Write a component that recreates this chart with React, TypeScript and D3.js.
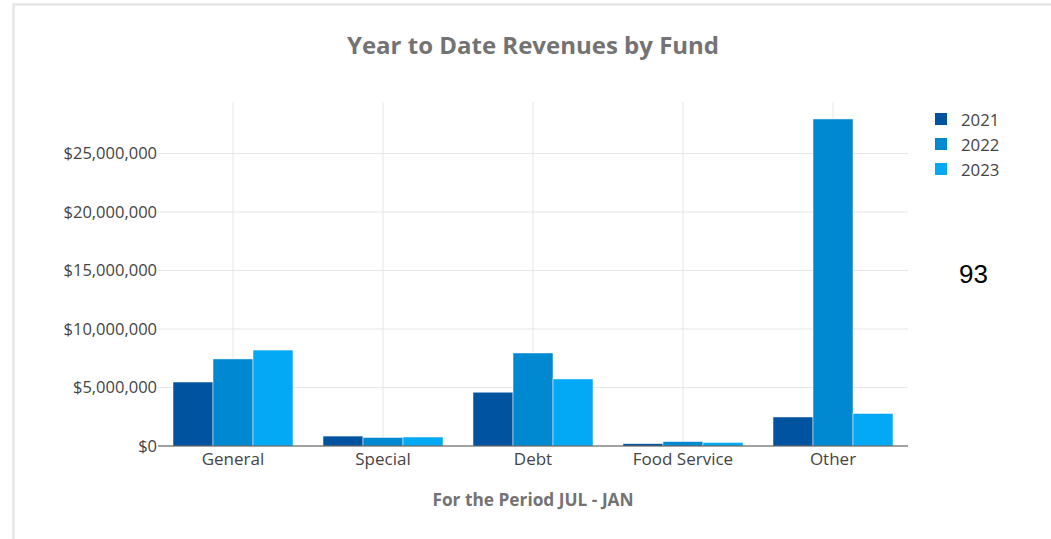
import * as React from "react";
import { scaleBand, scaleLinear, format } from "d3";

const funds = ["General", "Special", "Debt", "Food Service", "Other"];
const years = ["2021", "2022", "2023"];
const colors = ["#00549f", "#0088d1", "#03a9f4"];
const values2021 = [5470000, 850000, 4600000, 200000, 2480000];
const values2022 = [7440000, 730000, 7950000, 380000, 27950000];
const values2023 = [8200000, 770000, 5730000, 300000, 2780000];
const yTicks = [0, 5000000, 10000000, 15000000, 20000000, 25000000];

const series = [values2021, values2022, values2023];

const App: React.FC = () => {
    const width = 1051, height = 539;
    const margin = {top: 102, right: 143, bottom: 93, left: 158};
    const plotW = width - margin.left - margin.right;
    const plotH = height - margin.top - margin.bottom;

    const x = scaleBand().domain(funds).range([0, plotW]).paddingInner(0.2).paddingOuter(0.1);
    const x1 = scaleBand().domain(years).range([0, x.bandwidth()]);
    const y = scaleLinear().domain([0, 29400000]).range([plotH, 0]);
    const fmt = (v: number) => "$" + format(",")(v);
    const font = "'Open Sans', sans-serif";

    return (
        <svg width={width} height={height} style={{position: "absolute", left: 0, top: 0}}>
            <rect x={13.5} y={4.5} width={1040} height={540} fill="#fff" stroke="#e6e6e6" strokeWidth={2.5}/>
            <text x={533} y={54} textAnchor="middle" fontFamily={font} fontSize={24} fontWeight="bold" fill="#737373">
                Year to Date Revenues by Fund
            </text>
            <g transform={`translate(${margin.left},${margin.top})`}>
                {funds.map(f => (
                    <line key={f} x1={(x(f) as number) + x.bandwidth() / 2} x2={(x(f) as number) + x.bandwidth() / 2}
                          y1={0} y2={plotH} stroke="#e6e6e6"/>
                ))}
                {yTicks.map(t => (
                    <g key={t}>
                        {t > 0 && <line x1={0} x2={plotW} y1={y(t)} y2={y(t)} stroke="#e6e6e6"/>}
                        <text x={-1} y={y(t)} dy="0.35em" textAnchor="end" fontFamily={font} fontSize={16.5} fill="#444">
                            {fmt(t)}
                        </text>
                    </g>
                ))}
                {funds.map((f, i) => (
                    <g key={f} transform={`translate(${x(f)},0)`}>
                        {series.map((s, j) => (
                            <rect key={j} x={x1(years[j])} y={y(s[i])} width={x1.bandwidth()}
                                  height={plotH - y(s[i])} fill={colors[j]} stroke="#fff" strokeWidth={0.5}/>
                        ))}
                        <text x={x.bandwidth() / 2} y={plotH + 19} textAnchor="middle" fontFamily={font}
                              fontSize={17} fill="#444">{f}</text>
                    </g>
                ))}
                <line x1={0} x2={plotW} y1={plotH} y2={plotH} stroke="#444" strokeWidth={1}/>
            </g>
            <text x={533} y={506} textAnchor="middle" fontFamily={font} fontSize={17.3} fontWeight="bold" fill="#737373">
                For the Period JUL - JAN
            </text>
            {years.map((yr, j) => (
                <g key={yr} transform={`translate(935,${120 + j * 25})`}>
                    <rect x={0} y={-7} width={12} height={12} fill={colors[j]}/>
                    <text x={26} y={0} dy="0.35em" fontFamily={font} fontSize={16.8} fill="#444">{yr}</text>
                </g>
            ))}
            <text x={959} y={283} fontFamily="'Liberation Sans', Arial, sans-serif" fontSize={26} fill="#000">93</text>
        </svg>
    );
};

export default App;
